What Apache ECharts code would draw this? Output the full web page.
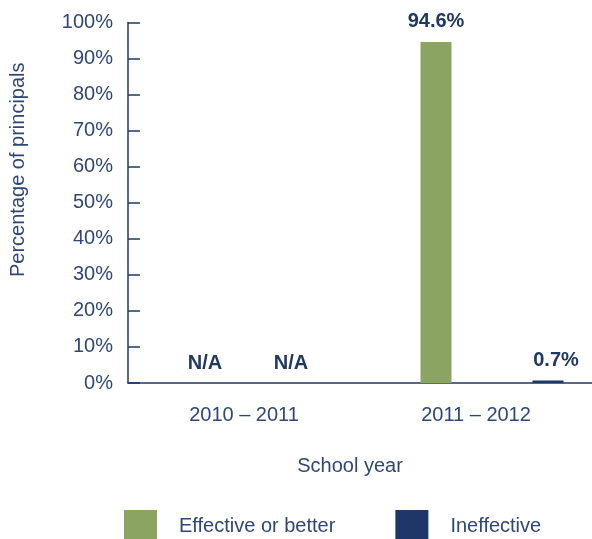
<!DOCTYPE html>
<html>
<head>
<meta charset="utf-8">
<script src="https://cdn.jsdelivr.net/npm/echarts@6/dist/echarts.min.js"></script>
<style>
html,body{margin:0;padding:0;background:#fff;}
#chart{width:592px;height:539px;}
</style>
</head>
<body>
<div id="chart"></div>
<script>
// ---- data ----
const categories = ['2010 – 2011', '2011 – 2012'];
const seriesNames = ['Effective or better', 'Ineffective'];
const effective = [null, 94.6];     // null = N/A
const ineffective = [null, 0.7];    // null = N/A
const yTicks = [0, 10, 20, 30, 40, 50, 60, 70, 80, 90, 100];
const naText = 'N/A';

// ---- styles ----
const FONT = '"Liberation Sans", Arial, Helvetica, sans-serif';
const TEXT = '#2F4777';
const DARK = '#1F3864';
const GREEN = '#8BA462';
const NAVY = '#1E3766';

function buildData(values, naOffset) {
  return values.map(v => v === null
    ? { value: 0, label: { formatter: naText, offset: naOffset } }
    : { value: v });
}

const labelStyle = {
  show: true, position: 'top', distance: 10,
  fontFamily: FONT, fontSize: 20, fontWeight: 'bold', color: DARK,
  formatter: p => p.value + '%'
};

const chart = echarts.init(document.getElementById('chart'), null, { renderer: 'canvas' });
chart.setOption({
  animation: false,
  grid: { left: 125, right: 0, top: 22.5, bottom: 156, containLabel: false },
  legend: {
    data: seriesNames,
    left: 124, top: 510, padding: 0,
    icon: 'rect', itemWidth: 33, itemHeight: 33, itemGap: 60,
    textStyle: { fontFamily: FONT, fontSize: 20, color: TEXT, padding: [0, 0, 0, 17] }
  },
  xAxis: {
    type: 'category',
    data: categories,
    axisLine: { lineStyle: { color: DARK, width: 1.5 } },
    axisTick: { show: false },
    axisLabel: { fontFamily: FONT, fontSize: 20, color: TEXT, margin: 22 },
    name: 'School year',
    nameLocation: 'middle',
    nameGap: 73,
    nameTextStyle: { fontFamily: FONT, fontSize: 20, color: TEXT, padding: [0, 20, 0, 0] }
  },
  yAxis: {
    type: 'value',
    min: yTicks[0], max: yTicks[yTicks.length - 1], interval: 10,
    axisLine: { show: true, lineStyle: { color: DARK, width: 1.5 } },
    axisTick: { show: true, inside: true, length: 12, lineStyle: { color: DARK, width: 1.5 } },
    splitLine: { show: false },
    axisLabel: { fontFamily: FONT, fontSize: 20, color: TEXT, margin: 15, formatter: '{value}%' },
    name: 'Percentage of principals',
    nameLocation: 'middle',
    nameGap: 100,
    nameTextStyle: { fontFamily: FONT, fontSize: 20, color: TEXT, padding: [0, 0, 0, 66] }
  },
  series: [
    {
      name: '_spacer', type: 'bar', barWidth: 8.86, barGap: '261.3%',
      data: categories.map(() => null), silent: true,
      itemStyle: { color: 'rgba(0,0,0,0)' }
    },
    {
      name: seriesNames[0], type: 'bar', barWidth: 31, barGap: '261.3%',
      itemStyle: { color: GREEN },
      label: Object.assign({}, labelStyle),
      data: buildData(effective, [1, 0])
    },
    {
      name: seriesNames[1], type: 'bar', barWidth: 31, barGap: '261.3%',
      itemStyle: { color: NAVY },
      label: Object.assign({}, labelStyle, { offset: [8, 0] }),
      data: buildData(ineffective, [-25, 0])
    }
  ]
});
</script>
</body>
</html>
